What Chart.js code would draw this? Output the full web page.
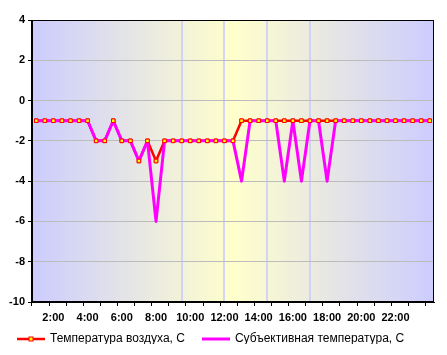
<!DOCTYPE html>
<html>
<head>
<meta charset="utf-8">
<script src="https://cdn.jsdelivr.net/npm/chart.js@4.4.1/dist/chart.umd.min.js"></script>
<style>
  body { margin: 0; background: #fff; }
</style>
</head>
<body>
<canvas id="tempChart" width="447" height="355"></canvas>
<script>
// half-hour readings, 1:00 .. 24:00
const times = [
    '1:00', '1:30', '2:00', '2:30', '3:00', '3:30', '4:00', '4:30',
    '5:00', '5:30', '6:00', '6:30', '7:00', '7:30', '8:00', '8:30',
    '9:00', '9:30', '10:00', '10:30', '11:00', '11:30', '12:00', '12:30',
    '13:00', '13:30', '14:00', '14:30', '15:00', '15:30', '16:00', '16:30',
    '17:00', '17:30', '18:00', '18:30', '19:00', '19:30', '20:00', '20:30',
    '21:00', '21:30', '22:00', '22:30', '23:00', '23:30', '24:00'
];
const xTickLabels = ['2:00', '4:00', '6:00', '8:00', '10:00', '12:00', '14:00', '16:00', '18:00', '20:00', '22:00'];

const airTemp = [
    -1, -1, -1, -1, -1, -1, -1, -2, -2, -1, -2, -2, -3, -2, -3, -2,
    -2, -2, -2, -2, -2, -2, -2, -2, -1, -1, -1, -1, -1, -1, -1, -1,
    -1, -1, -1, -1, -1, -1, -1, -1, -1, -1, -1, -1, -1, -1, -1
];
const feelTemp = [
    -1, -1, -1, -1, -1, -1, -1, -2, -2, -1, -2, -2, -3, -2, -6, -2,
    -2, -2, -2, -2, -2, -2, -2, -2, -4, -1, -1, -1, -1, -4, -1, -4,
    -1, -1, -4, -1, -1, -1, -1, -1, -1, -1, -1, -1, -1, -1, -1
];
const yTicks = [-10, -8, -6, -4, -2, 0, 2, 4];

const seriesNames = ['Температура воздуха, C', 'Субъективная температура, C'];

const fontFamily = '"Liberation Sans", Arial, sans-serif';

// маленькие картинки для легенды: линия (+ маркер)
function legendIcon(color, width, withMarker) {
    const c = document.createElement('canvas');
    c.width = 28;
    c.height = 8;
    const g = c.getContext('2d');
    g.strokeStyle = color;
    g.lineWidth = width;
    g.beginPath();
    g.moveTo(0, 4);
    g.lineTo(28, 4);
    g.stroke();
    if (withMarker) {
        g.fillStyle = '#ffff00';
        g.strokeStyle = '#ff0000';
        g.lineWidth = 1;
        g.fillRect(12, 2, 4, 4);
        g.strokeRect(12, 2, 4, 4);
    }
    return c;
}
const legendIcons = [legendIcon('#ff0000', 2.5, true), legendIcon('#ff00ff', 3, false)];

const backgroundPlugin = {
    id: 'plotBackground',
    afterLayout(chart) {
        // легенда чуть выше своей коробки, как в оригинале
        chart.legend.top -= 11;
        chart.legend.bottom -= 11;
    },
    beforeDraw(chart) {
        const { ctx, chartArea: a, scales } = chart;
        const grad = ctx.createLinearGradient(a.left, 0, a.right, 0);
        grad.addColorStop(0, '#ccccff');
        grad.addColorStop(0.5, '#ffffcc');
        grad.addColorStop(1, '#ccccff');
        ctx.save();
        ctx.fillStyle = grad;
        ctx.fillRect(a.left, a.top, a.right - a.left, a.bottom - a.top);
        // светлые полосы фона
        ctx.strokeStyle = 'rgba(205, 205, 250, 0.85)';
        ctx.lineWidth = 2;
        [17, 22, 27, 32].forEach(i => {
            const x = Math.round(scales.x.getPixelForValue(i));
            ctx.beginPath();
            ctx.moveTo(x, a.top);
            ctx.lineTo(x, a.bottom);
            ctx.stroke();
        });
        ctx.restore();
    },
    afterDatasetsDraw(chart) {
        // маркеры первой серии поверх линий
        const ctx = chart.ctx;
        ctx.save();
        chart.getDatasetMeta(0).data.forEach(pt => pt.draw(ctx, chart.chartArea));
        ctx.restore();
    },
    afterDraw(chart) {
        const { ctx, chartArea: a } = chart;
        ctx.save();
        ctx.strokeStyle = '#000';
        ctx.lineWidth = 1;
        ctx.strokeRect(Math.round(a.left) - 0.5, Math.round(a.top) + 0.5, Math.round(a.right - a.left), Math.round(a.bottom - a.top) - 1);
        ctx.restore();
    }
};

new Chart(document.getElementById('tempChart'), {
    type: 'line',
    data: {
        labels: times,
        datasets: [
            {
                label: seriesNames[0],
                data: airTemp,
                borderColor: '#ff0000',
                borderWidth: 2.5,
                borderJoinStyle: 'round',
                pointStyle: 'rect',
                pointRadius: 2.5,
                pointBorderWidth: 1,
                pointBackgroundColor: '#ffff00',
                pointBorderColor: '#ff0000',
                tension: 0,
                order: 2
            },
            {
                label: seriesNames[1],
                data: feelTemp,
                borderColor: '#ff00ff',
                borderWidth: 3,
                borderJoinStyle: 'round',
                pointRadius: 0,
                tension: 0,
                order: 1
            }
        ]
    },
    options: {
        responsive: false,
        animation: false,
        layout: { padding: { top: 20, right: 13, left: 0, bottom: 0 } },
        plugins: {
            tooltip: { enabled: false },
            legend: {
                position: 'bottom',
                align: 'start',
                maxHeight: 29,
                labels: {
                    usePointStyle: true,
                    pointStyleWidth: 26,
                    padding: 18,
                    color: '#000',
                    font: { family: fontFamily, size: 12 },
                    generateLabels(chart) {
                        const items = Chart.defaults.plugins.legend.labels.generateLabels(chart);
                        items.forEach(it => { it.pointStyle = legendIcons[it.datasetIndex]; });
                        return items.sort((p, q) => p.datasetIndex - q.datasetIndex);
                    }
                }
            }
        },
        scales: {
            x: {
                type: 'category',
                offset: true,
                afterFit(scale) { scale.height = 24; },
                grid: {
                    offset: true,
                    drawOnChartArea: false,
                    tickLength: 4,
                    tickColor: ctx => (ctx.index % 2 === 0 ? '#000' : 'rgba(0,0,0,0)')
                },
                border: { display: true, color: '#000', width: 1 },
                ticks: {
                    autoSkip: false,
                    maxRotation: 0,
                    padding: 5,
                    color: '#000',
                    font: { family: fontFamily, size: 11, weight: 'bold' },
                    callback(value) {
                        const t = this.getLabelForValue(value);
                        return xTickLabels.includes(t) ? t : '';
                    }
                }
            },
            y: {
                min: yTicks[0],
                max: yTicks[yTicks.length - 1],
                afterFit(scale) { scale.width = 32; },
                afterBuildTicks(scale) { scale.ticks = yTicks.map(v => ({ value: v })); },
                grid: {
                    color: '#bcbcbc',
                    tickColor: '#000',
                    tickLength: 4
                },
                border: { display: true, color: '#000', width: 1 },
                ticks: {
                    padding: 3,
                    color: '#000',
                    font: { family: fontFamily, size: 11, weight: 'bold' }
                }
            }
        }
    },
    plugins: [backgroundPlugin]
});
</script>
</body>
</html>
